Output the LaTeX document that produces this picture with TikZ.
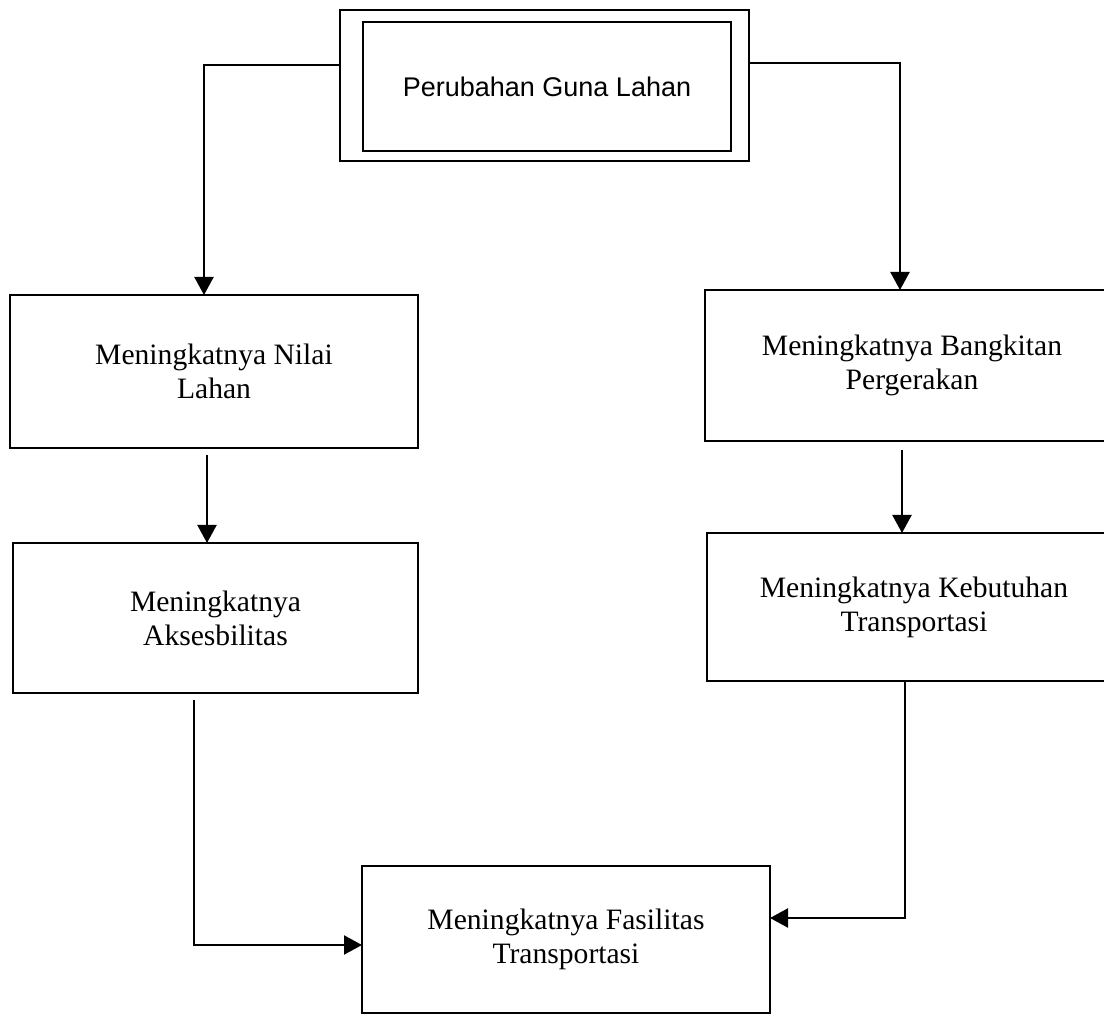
\documentclass[tikz,border=0pt]{standalone}
\usepackage{fontspec}
\setmainfont{Liberation Serif}
\newfontfamily\arialfont{Liberation Sans}
\usetikzlibrary{arrows.meta}

\begin{document}
\begin{tikzpicture}[x=0.5pt,y=-0.5pt,>={Triangle[length=9pt,width=9.5pt]},
  box/.style={draw,line width=1.1pt,inner sep=0pt,outer sep=0pt,align=center,
    font=\fontsize{14.8}{17}\selectfont},
  link/.style={->,line width=1.1pt}]
\useasboundingbox (0,0) rectangle (1104,1015);

\node[box,minimum width=204.5pt,minimum height=75.5pt] (guna) at (544.5,85.5) {};
\node[box,minimum width=184pt,minimum height=64.5pt,
  font=\arialfont\fontsize{13.5}{16}\selectfont] (gunain) at (547,86.5) {Perubahan Guna Lahan};

\node[box,minimum width=204pt,minimum height=76.5pt] (nilai) at (214,371.5) {Meningkatnya Nilai\\Lahan};
\node[box,minimum width=202.5pt,minimum height=75pt] (akses) at (215.5,618) {Meningkatnya\\Aksesbilitas};
\node[box,minimum width=207pt,minimum height=75.5pt] (bangkit) at (912,365.5) {Meningkatnya Bangkitan\\Pergerakan};
\node[box,minimum width=207pt,minimum height=74pt] (butuh) at (914,607) {Meningkatnya Kebutuhan\\Transportasi};
\node[box,minimum width=204pt,minimum height=73.5pt] (fasilitas) at (566,939.5) {Meningkatnya Fasilitas\\Transportasi};

\draw[link] ([yshift=10.25pt]guna.west) -| ([xshift=-5pt]nilai.north);
\draw[link] ([yshift=11.25pt]guna.east) -| ([xshift=-6pt]bangkit.north);
\draw[link,shorten <=3.5pt] ([xshift=-3.5pt]nilai.south) -- ([xshift=-3.5pt]nilai.south |- akses.north);
\draw[link,shorten <=4.5pt] ([xshift=-5pt]bangkit.south) -- ([xshift=-5pt]bangkit.south |- butuh.north);
\draw[link,shorten <=3.5pt] ([xshift=-10.75pt]akses.south) |- ([yshift=-2.75pt]fasilitas.west);
\draw[link] ([xshift=-4.5pt]butuh.south) |- ([yshift=10.75pt]fasilitas.east);
\end{tikzpicture}
\end{document}
